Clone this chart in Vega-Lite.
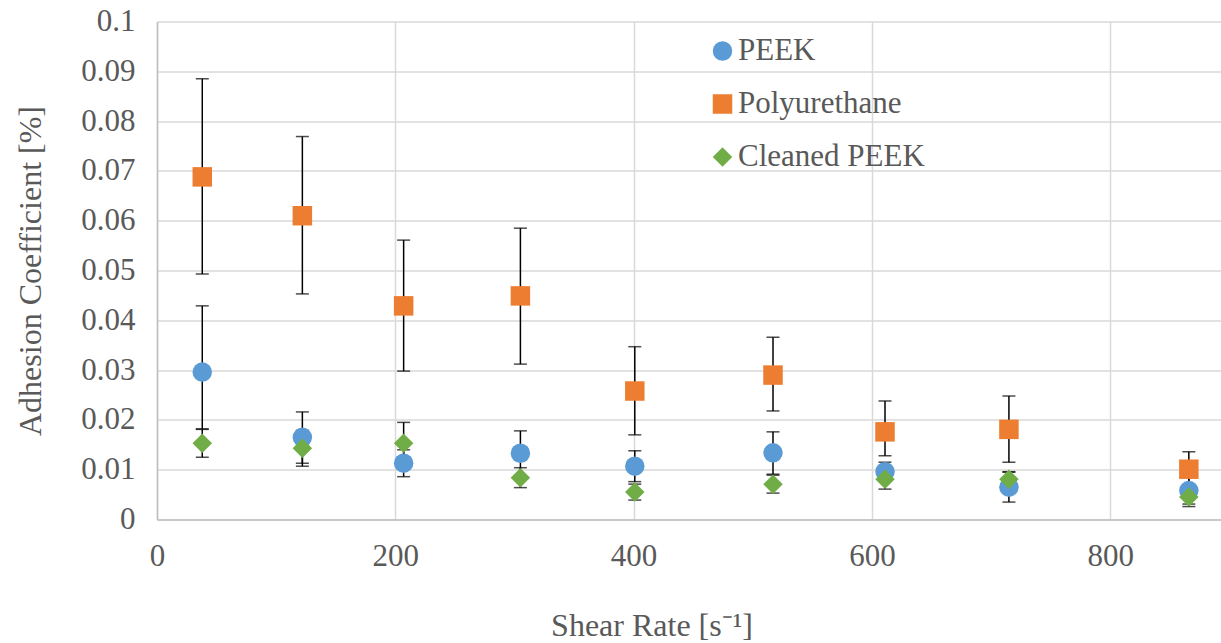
{
  "$schema": "https://vega.github.io/schema/vega-lite/v6.json",
  "autosize": "none",
  "padding": {"left": 157, "top": 21.5, "right": 0, "bottom": 123.5},
  "width": 1064,
  "height": 498,
  "background": "white",
  "config": {
    "view": {"stroke": null},
    "font": "Liberation Serif, serif",
    "style": {
      "guide-label": {"font": "Liberation Serif, serif"},
      "guide-title": {"font": "Liberation Serif, serif"}
    },
    "axis": {
      "labelFont": "Liberation Serif, serif",
      "titleFont": "Liberation Serif, serif",
      "labelColor": "#595959",
      "titleColor": "#595959",
      "labelFontSize": 31,
      "titleFontSize": 32,
      "titleFontWeight": "normal",
      "gridColor": "#D9D9D9",
      "gridWidth": 1.5,
      "domainColor": "#BFBFBF",
      "domainWidth": 1.5,
      "ticks": false,
      "labelFlush": false
    },
    "legend": {"labelFont": "Liberation Serif, serif"}
  },
  "data": {
    "values": [
      {"series": "PEEK", "shear": 38, "coef": 0.0296, "lo": 0.0182, "hi": 0.0429},
      {"series": "PEEK", "shear": 122, "coef": 0.0165, "lo": 0.0113, "hi": 0.0216},
      {"series": "PEEK", "shear": 207, "coef": 0.0113, "lo": 0.0086, "hi": 0.014},
      {"series": "PEEK", "shear": 305, "coef": 0.0133, "lo": 0.0088, "hi": 0.0178},
      {"series": "PEEK", "shear": 401, "coef": 0.0107, "lo": 0.0076, "hi": 0.0138},
      {"series": "PEEK", "shear": 517, "coef": 0.0134, "lo": 0.0091, "hi": 0.0176},
      {"series": "PEEK", "shear": 611, "coef": 0.0096, "lo": 0.0077, "hi": 0.0115},
      {"series": "PEEK", "shear": 715, "coef": 0.0065, "lo": 0.0035, "hi": 0.0095},
      {"series": "PEEK", "shear": 866, "coef": 0.0058, "lo": 0.0031, "hi": 0.0085},
      {"series": "Polyurethane", "shear": 38, "coef": 0.0688, "lo": 0.0493, "hi": 0.0885},
      {"series": "Polyurethane", "shear": 122, "coef": 0.061, "lo": 0.0453, "hi": 0.0769},
      {"series": "Polyurethane", "shear": 207, "coef": 0.0429, "lo": 0.0298, "hi": 0.0561},
      {"series": "Polyurethane", "shear": 305, "coef": 0.0449, "lo": 0.0312, "hi": 0.0585},
      {"series": "Polyurethane", "shear": 401, "coef": 0.0258, "lo": 0.017, "hi": 0.0347},
      {"series": "Polyurethane", "shear": 517, "coef": 0.029, "lo": 0.0218, "hi": 0.0366},
      {"series": "Polyurethane", "shear": 611, "coef": 0.0176, "lo": 0.0128, "hi": 0.0238},
      {"series": "Polyurethane", "shear": 715, "coef": 0.0181, "lo": 0.0115, "hi": 0.0248},
      {"series": "Polyurethane", "shear": 866, "coef": 0.0101, "lo": 0.0066, "hi": 0.0136},
      {"series": "Cleaned PEEK", "shear": 38, "coef": 0.0153, "lo": 0.0125, "hi": 0.0181},
      {"series": "Cleaned PEEK", "shear": 122, "coef": 0.0143, "lo": 0.0107, "hi": 0.0179},
      {"series": "Cleaned PEEK", "shear": 207, "coef": 0.0153, "lo": 0.0111, "hi": 0.0195},
      {"series": "Cleaned PEEK", "shear": 305, "coef": 0.0084, "lo": 0.0064, "hi": 0.0104},
      {"series": "Cleaned PEEK", "shear": 401, "coef": 0.0055, "lo": 0.0039, "hi": 0.0071},
      {"series": "Cleaned PEEK", "shear": 517, "coef": 0.0071, "lo": 0.0053, "hi": 0.0089},
      {"series": "Cleaned PEEK", "shear": 611, "coef": 0.0081, "lo": 0.0061, "hi": 0.0101},
      {"series": "Cleaned PEEK", "shear": 715, "coef": 0.0081, "lo": 0.0066, "hi": 0.0096},
      {"series": "Cleaned PEEK", "shear": 866, "coef": 0.0045, "lo": 0.0026, "hi": 0.0064}
    ]
  },
  "layer": [
    {
      "mark": {
        "type": "errorbar",
        "color": "black",
        "thickness": 1.5,
        "ticks": {"size": 13, "thickness": 1.5, "color": "black"}
      },
      "encoding": {
        "x": {
          "field": "shear", "type": "quantitative",
          "scale": {"domain": [0, 893], "nice": false},
          "axis": {
            "values": [0, 200, 400, 600, 800],
            "title": "Shear Rate [s⁻¹]",
            "labelFont": "Liberation Serif, serif",
            "labelPadding": 22,
            "labelFlush": false,
            "titleX": 494.5,
            "titleY": 106,
            "titleAlign": "center",
            "titleBaseline": "middle"
          }
        },
        "y": {
          "field": "lo", "type": "quantitative",
          "scale": {"domain": [0, 0.1], "nice": false},
          "axis": {
            "values": [0, 0.01, 0.02, 0.03, 0.04, 0.05, 0.06, 0.07, 0.08, 0.09, 0.1],
            "format": ".2~f",
            "title": "Adhesion Coefficient [%]",
            "labelFont": "Liberation Serif, serif",
            "labelPadding": 22,
            "labelFlush": false,
            "titleX": -127,
            "titleY": 249,
            "titleAngle": -90,
            "titleAlign": "center",
            "titleBaseline": "middle"
          }
        },
        "y2": {"field": "hi"}
      }
    },
    {
      "mark": {"type": "point", "filled": true, "opacity": 1, "size": 380, "strokeWidth": 0},
      "encoding": {
        "x": {"field": "shear", "type": "quantitative"},
        "y": {"field": "coef", "type": "quantitative"},
        "color": {
          "field": "series", "type": "nominal",
          "scale": {
            "domain": ["PEEK", "Polyurethane", "Cleaned PEEK"],
            "range": ["#5B9BD5", "#ED7D31", "#70AD47"]
          },
          "legend": {
            "title": null,
            "orient": "none",
            "legendX": 550,
            "legendY": 14,
            "padding": 0,
            "labelFont": "Liberation Serif, serif",
            "labelFontSize": 31,
            "labelColor": "#595959",
            "labelOffset": 0,
            "labelLimit": 500,
            "symbolSize": 380,
            "symbolStrokeWidth": 0,
            "symbolOpacity": 1,
            "rowPadding": 21
          }
        },
        "shape": {
          "field": "series", "type": "nominal",
          "scale": {
            "domain": ["PEEK", "Polyurethane", "Cleaned PEEK"],
            "range": ["circle", "square", "diamond"]
          },
          "legend": null
        }
      }
    }
  ]
}
